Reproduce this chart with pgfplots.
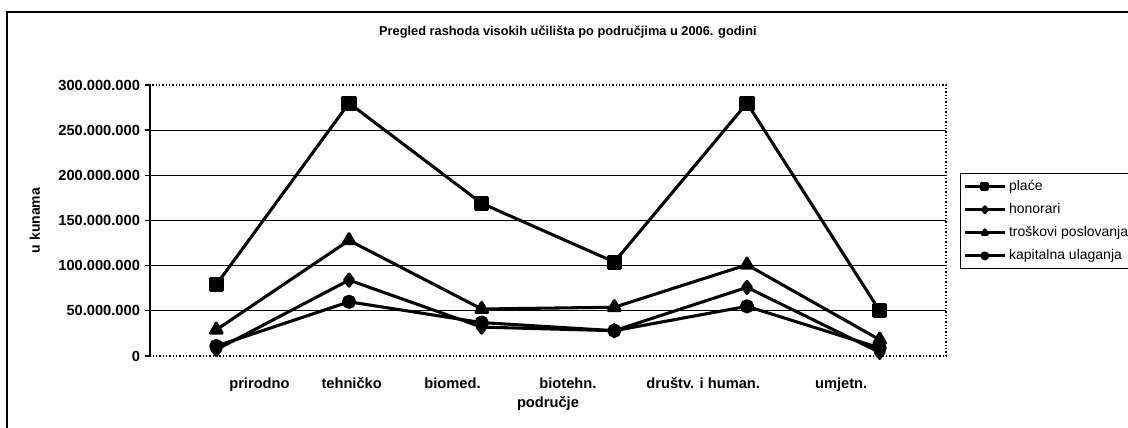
\documentclass[border=0pt]{standalone}
\usepackage{fontspec}
\setmainfont{Liberation Sans}
\usepackage{pgfplots}
\pgfplotsset{compat=1.18}
\begin{document}
\begin{tikzpicture}[x=1pt,y=1pt]
\path[use as bounding box, clip] (0,0) rectangle (846,321);
\fill[white] (0,0) rectangle (846,321);
\draw[line width=1.5pt] (5.25,-20) rectangle (900,312);
\begin{axis}[
  at={(112.5pt,54pt)}, anchor=south west,
  scale only axis, width=597pt, height=203.25pt,
  xmin=-0.5, xmax=5.5, ymin=0, ymax=300000000,
  axis line style={draw=none},
  xtick={0.325,1.02,1.78,2.65,3.67,4.71},
  xticklabels={prirodno, tehničko, biomed., biotehn., društv. i human., umjetn.},
  x tick style={draw=none},
  xticklabel style={font=\bfseries\fontsize{11}{13}\selectfont, anchor=base, yshift=-20.5pt},
  ytick={0,50000000,100000000,150000000,200000000,250000000,300000000},
  scaled y ticks=false,
  ytick pos=left, tick align=outside, major tick length=4pt,
  y tick style={black, line width=1pt},
  /pgf/number format/assume math mode=true,
  yticklabel style={font=\bfseries\fontsize{11}{13}\selectfont, /pgf/number format/fixed, /pgf/number format/precision=0, /pgf/number format/1000 sep={.}},
  ylabel={u kunama},
  ylabel style={at={(axis description cs:-0.1445,0.5)}, anchor=center, font=\bfseries\fontsize{10.5}{12}\selectfont},
  xlabel={područje},
  xlabel style={at={(axis description cs:0.5,-0.177)}, anchor=center, font=\bfseries\fontsize{11}{13}\selectfont},
  title={Pregled rashoda visokih učilišta po područjima u 2006. godini},
  title style={at={(axis description cs:0.525,1.166)}, anchor=center, font=\bfseries\fontsize{9.6}{11}\selectfont},
  legend style={at={(rel axis cs:1.0176,0.675)}, anchor=north west, draw=black, line width=1pt, font=\fontsize{10.5}{12}\selectfont, row sep=4.2pt, inner xsep=2pt, inner ysep=3pt},
  legend cell align=left,
  legend image code/.code={\draw[mark repeat=2,mark phase=2,mark size=2.2pt] plot coordinates {(0pt,0pt)(15pt,0pt)(30pt,0pt)};},
  clip=false,
]
\draw[black, line width=0.9pt] (rel axis cs:0,0.1667) -- (rel axis cs:1,0.1667);
\draw[black, line width=0.9pt] (rel axis cs:0,0.3333) -- (rel axis cs:1,0.3333);
\draw[black, line width=0.9pt] (rel axis cs:0,0.5) -- (rel axis cs:1,0.5);
\draw[black, line width=0.9pt] (rel axis cs:0,0.6667) -- (rel axis cs:1,0.6667);
\draw[black, line width=0.9pt] (rel axis cs:0,0.8333) -- (rel axis cs:1,0.8333);
\draw[black, line width=1.1pt, dash pattern=on 1.1pt off 1.4pt] (rel axis cs:0,0) rectangle (rel axis cs:1,1);
\draw[black, line width=1.1pt] (rel axis cs:0,0) -- (rel axis cs:0,1);

\addplot[black, line width=2.3pt, line join=round, mark=square*, mark size=4.5pt, mark options={solid}]
  coordinates {(0,79000000) (1,280000000) (2,169000000) (3,104000000) (4,280000000) (5,50000000)};
\addlegendentry{plaće}
\addplot[black, line width=2.3pt, line join=round, mark=diamond*, mark size=4.5pt, mark options={solid}]
  coordinates {(0,7000000) (1,84000000) (2,32000000) (3,28000000) (4,76000000) (5,4000000)};
\addlegendentry{honorari}
\addplot[black, line width=2.3pt, line join=round, mark=triangle*, mark size=5pt, mark options={solid}]
  coordinates {(0,29000000) (1,128000000) (2,52000000) (3,54000000) (4,101000000) (5,18000000)};
\addlegendentry{troškovi poslovanja}
\addplot[black, line width=2.3pt, line join=round, mark=*, mark size=4.2pt, mark options={solid}]
  coordinates {(0,11000000) (1,60000000) (2,37000000) (3,28000000) (4,55000000) (5,9000000)};
\addlegendentry{kapitalna ulaganja}
\end{axis}
\end{tikzpicture}
\end{document}
